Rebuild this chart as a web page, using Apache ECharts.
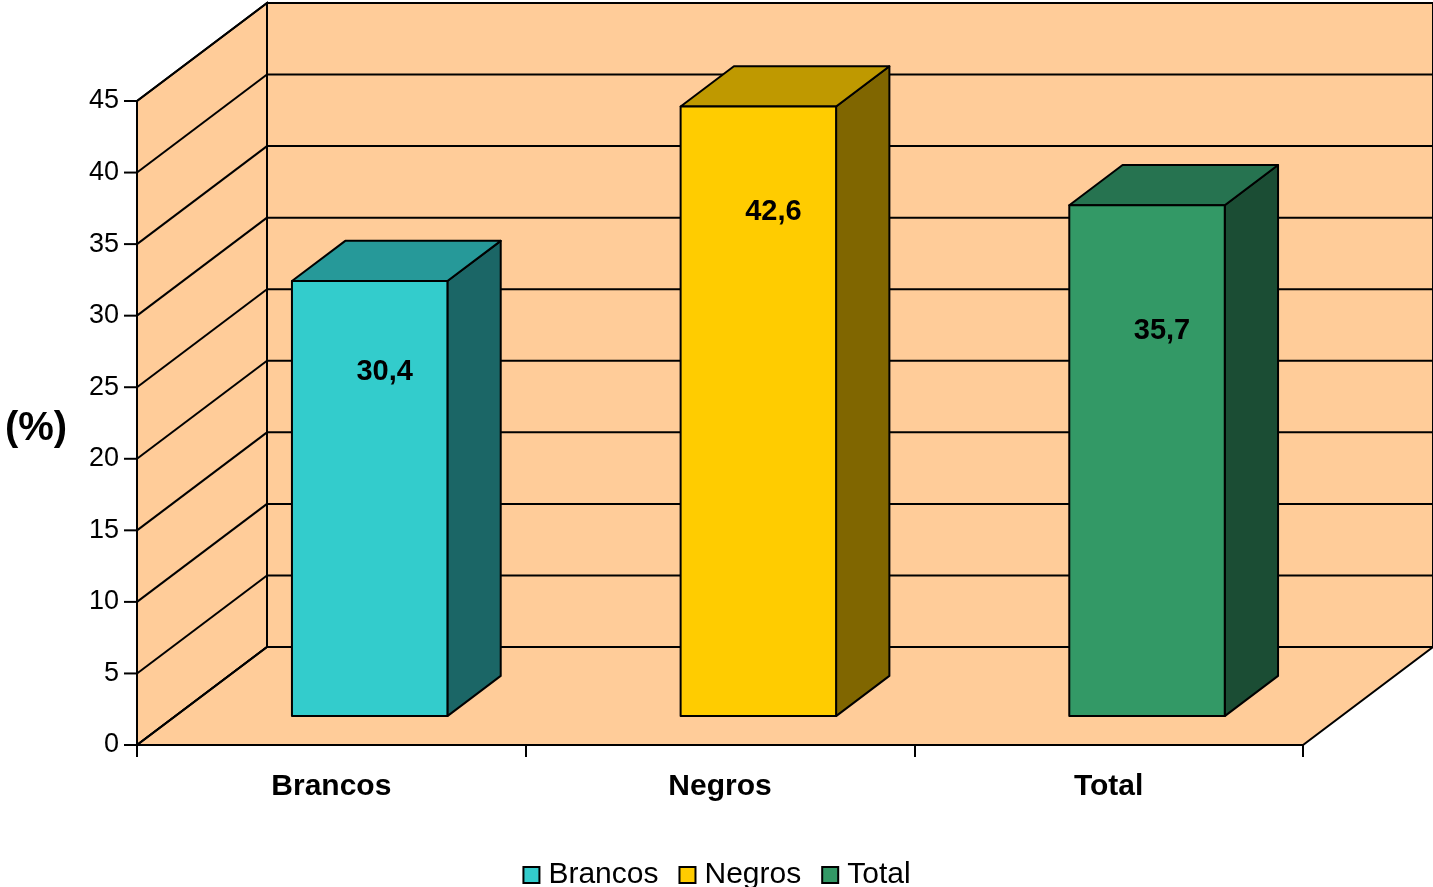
<!DOCTYPE html>
<html>
<head>
<meta charset="utf-8">
<title>Brancos / Negros / Total</title>
<script src="https://cdn.jsdelivr.net/npm/echarts@6/dist/echarts.min.js"></script>
<style>
  html, body { margin: 0; padding: 0; background: #fff; }
  #chart { width: 1433px; height: 887px; }
</style>
</head>
<body>
<div id="chart"></div>
<script>
// data
var categories = ["Brancos", "Negros", "Total"];
var values = [30.4, 42.6, 35.7];
var valueLabels = ["30,4", "42,6", "35,7"];

// styles (front / top / side of each box)
var frontColors = ["#33CCCC", "#FFCC00", "#339966"];
var topColors = ["#269999", "#BF9900", "#267350"];
var sideColors = ["#1B6666", "#806600", "#1B4D34"];
var labelDrop = [91, 106, 126]; // how far below the front top edge the value sits
var WALL = "#FFCC99";
var FONT = "Liberation Sans, Arial, sans-serif";
var DX = 130, DY = 98;   // depth of the floor / walls, px
var GAP = 0.295;         // empty depth in front of the boxes
var BOX_DEPTH = 0.41;    // depth of a box, share of floor depth
var BOX_WIDTH = 0.4;     // share of category band
var Y_MAX = 45, Y_STEP = 5;

var chart = echarts.init(document.getElementById("chart"));

function renderWalls(params, api) {
  var cs = params.coordSys;
  var x0 = cs.x, x1 = cs.x + cs.width, yt = cs.y, yb = cs.y + cs.height;
  var line = { stroke: "#000", lineWidth: 2, fill: null };
  var kids = [
    { type: "polygon", shape: { points: [[x0, yb], [x0 + DX, yb - DY], [x0 + DX, yt - DY], [x0, yt]] },
      style: { fill: WALL, stroke: "#000", lineWidth: 2 } },
    { type: "polygon", shape: { points: [[x0, yb], [x1, yb], [x1 + DX, yb - DY], [x0 + DX, yb - DY]] },
      style: { fill: WALL, stroke: "#000", lineWidth: 2 } },
    { type: "rect", shape: { x: x0 + DX, y: yt - DY, width: cs.width, height: cs.height },
      style: { fill: WALL, stroke: "#000", lineWidth: 2 } }
  ];
  // gridlines on the back wall and the left wall, plus the value-axis ticks
  for (var v = 0; v <= Y_MAX; v += Y_STEP) {
    var y = api.coord([0, v])[1];
    kids.push({ type: "line", shape: { x1: x0 + DX, y1: y - DY, x2: x1 + DX, y2: y - DY }, style: line });
    kids.push({ type: "line", shape: { x1: x0, y1: y, x2: x0 + DX, y2: y - DY }, style: line });
    kids.push({ type: "rect", shape: { x: x0 - 13, y: y - 1, width: 13, height: 2 },
                style: { fill: "#000" } });
  }
  return { type: "group", children: kids };
}

function renderBox(params, api) {
  var i = api.value(0);
  var base = api.coord([i, 0]);
  var top = api.coord([i, api.value(1)]);
  var bw = api.size([1, 0])[0] * BOX_WIDTH;
  var L = base[0] - bw / 2 + DX * GAP;
  var R = L + bw;
  var B = base[1] - DY * GAP;
  var T = top[1] - DY * GAP;
  var bx = DX * BOX_DEPTH, by = DY * BOX_DEPTH;
  var edge = { stroke: "#000", lineWidth: 2, lineJoin: "round" };
  return {
    type: "group",
    children: [
      { type: "polygon", shape: { points: [[R, T], [R, B], [R + bx, B - by], [R + bx, T - by]] },
        style: Object.assign({ fill: sideColors[i] }, edge) },
      { type: "polygon", shape: { points: [[L, T], [R, T], [R + bx, T - by], [L + bx, T - by]] },
        style: Object.assign({ fill: topColors[i] }, edge) },
      { type: "rect", shape: { x: L, y: T, width: bw, height: B - T },
        style: Object.assign({ fill: frontColors[i] }, edge) },
      { type: "text", x: (L + R) / 2 + 15, y: T + labelDrop[i],
        style: { text: valueLabels[i], fill: "#000", font: "bold 29px " + FONT,
                 align: "center", verticalAlign: "middle" } }
    ]
  };
}

var series = [{
  type: "custom",
  name: "walls",
  silent: true,
  clip: false,
  renderItem: renderWalls,
  data: [[0, 0]],
  z: 1
}];
categories.forEach(function (name, i) {
  series.push({
    type: "custom",
    name: name,
    renderItem: renderBox,
    itemStyle: { color: frontColors[i] },
    data: [[i, values[i]]],
    z: 2
  });
});

chart.setOption({
  animation: false,
  grid: { left: 137, right: 130, top: 101, bottom: 142, containLabel: false, outerBoundsMode: "none" },
  graphic: [{
    type: "text",
    x: 36,
    y: 429,
    style: { text: "(%)", font: "bold 40px " + FONT, fill: "#000", align: "center", verticalAlign: "middle" }
  }],
  legend: {
    data: categories,
    top: 860,
    left: "center",
    padding: 0,
    icon: "rect",
    itemWidth: 16,
    itemHeight: 16,
    itemGap: 20,
    itemStyle: { borderColor: "#000", borderWidth: 2 },
    textStyle: { fontSize: 30, fontFamily: FONT, color: "#000", padding: [0, 0, 0, 4] }
  },
  xAxis: {
    type: "category",
    data: categories,
    axisLine: { show: true, lineStyle: { color: "#000", width: 2 } },
    axisTick: { show: true, length: 12, alignWithLabel: false, lineStyle: { color: "#000", width: 2 } },
    axisLabel: { fontSize: 30, fontWeight: "bold", fontFamily: FONT, color: "#000", margin: 27 }
  },
  yAxis: {
    type: "value",
    min: 0,
    max: Y_MAX,
    interval: Y_STEP,
    axisLine: { show: true, lineStyle: { color: "#000", width: 2 } },
    axisTick: { show: false },
    axisLabel: { fontSize: 27, fontFamily: FONT, color: "#000", margin: 18 },
    splitLine: { show: false }
  },
  series: series
});
</script>
</body>
</html>
